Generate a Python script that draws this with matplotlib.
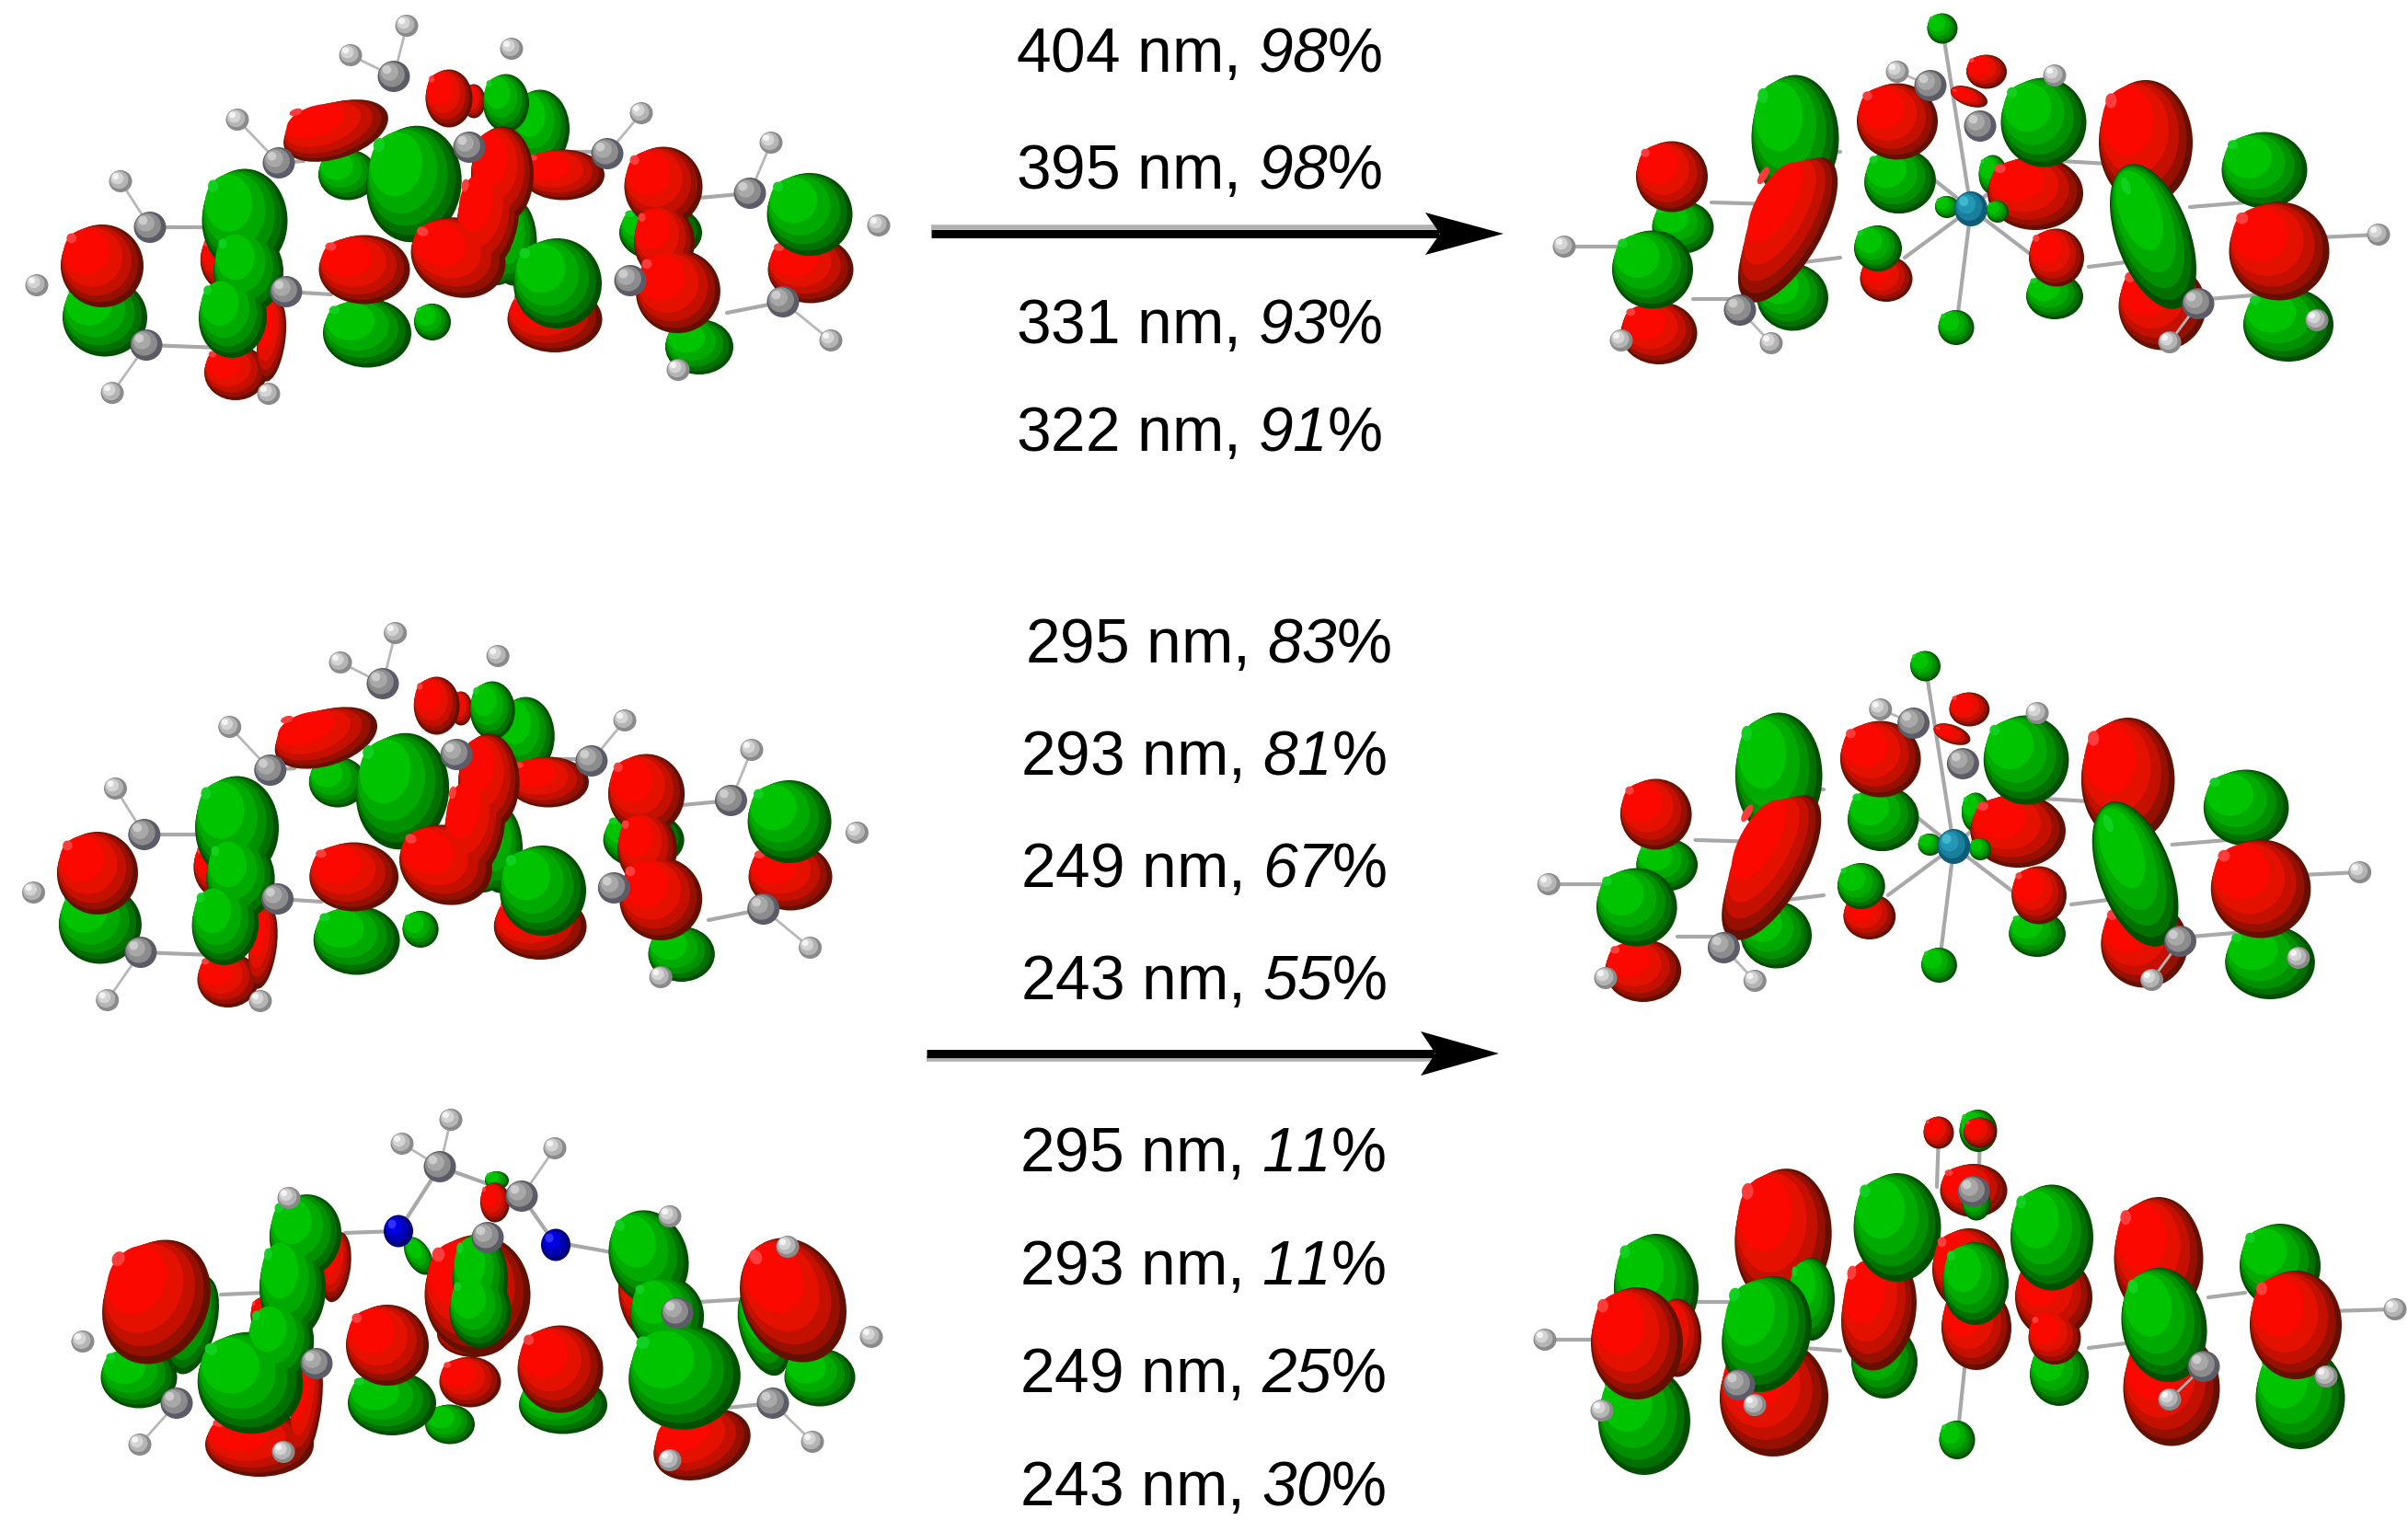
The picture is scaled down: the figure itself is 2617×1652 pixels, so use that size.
import matplotlib
matplotlib.use('Agg')
import matplotlib.pyplot as plt
from matplotlib.patches import Ellipse, Polygon
import numpy as np

plt.rcParams['font.family'] = ['Liberation Sans', 'DejaVu Sans']
plt.rcParams['mathtext.fontset'] = 'custom'
plt.rcParams['mathtext.rm'] = 'Liberation Sans'
plt.rcParams['mathtext.sf'] = 'Liberation Sans:italic'

W, H = 2617, 1652

# labels: wavelength, percent
wave_top = [404, 395, 331, 322]
pct_top = [98, 98, 93, 91]
base_top = [78, 205, 373, 490]
left_top = [1104, 1104, 1104, 1104]
wave_mid = [295, 293, 249, 243]
pct_mid = [83, 81, 67, 55]
base_mid = [720, 842, 964, 1086]
left_mid = [1114, 1109, 1109, 1109]
wave_low = [295, 293, 249, 243]
pct_low = [11, 11, 25, 30]
base_low = [1273, 1396, 1513, 1636]
left_low = [1108, 1108, 1108, 1108]

# lobes in paint order: sign, then the ellipses (x, y, w, h, clockwise tilt) that merge into one surface
homo_lobes = [
    ('g', [(114, 345, 92, 85, 0)]),
    ('r', [(111, 289, 90, 90, 5)]),
    ('r', [(256, 405, 68, 60, 0), (295, 370, 30, 90, 8), (243, 285, 50, 62, -10)]),
    ('g', [(266, 240, 93, 113, 0), (270, 295, 76, 90, 0), (253, 345, 74, 88, 5)]),
    ('g', [(378, 190, 64, 55, 0)]),
    ('r', [(365, 142, 118, 60, -18)]),
    ('g', [(587, 140, 64, 85, 0)]),
    ('r', [(515, 110, 25, 37, 0)]),
    ('r', [(488, 107, 51, 63, 0)]),
    ('g', [(550, 112, 50, 63, 0)]),
    ('g', [(558, 263, 51, 95, 0), (540, 290, 40, 40, 0)]),
    ('r', [(612, 190, 90, 55, 0)]),
    ('g', [(450, 200, 103, 127, 8)]),
    ('r', [(546, 190, 68, 105, 0), (530, 240, 66, 115, 10), (498, 280, 105, 85, 20)]),
    ('g', [(399, 362, 96, 75, 0)]),
    ('r', [(396, 293, 99, 75, 0)]),
    ('g', [(470, 350, 40, 40, 0)]),
    ('r', [(603, 347, 103, 72, 0)]),
    ('g', [(606, 308, 96, 98, 0)]),
    ('g', [(718, 253, 90, 62, 0), (760, 377, 74, 60, 0)]),
    ('r', [(721, 203, 85, 87, 0), (722, 263, 66, 80, 0), (737, 317, 92, 90, -20)]),
    ('r', [(881, 293, 93, 73, 0)]),
    ('g', [(880, 233, 93, 90, 0)]),
]
homo_c = [(163, 247), (159, 375), (303, 177), (311, 317), (428, 83), (510, 160), (660, 167), (685, 305), (815, 210), (851, 328)]
homo_h = [(40, 310), (131, 197), (122, 427), (258, 130), (292, 428), (381, 60), (442, 28), (556, 53), (697, 123), (737, 402), (838, 155), (955, 245), (903, 370)]
homo_rings = [(163, 247, 240, 247), (159, 375, 240, 378), (311, 317, 360, 320), (685, 305, 740, 320), (815, 210, 760, 215), (851, 328, 790, 340), (303, 177, 330, 175), (615, 165, 660, 165)]

lumo_lobes = [
    ('r', [(1803, 362, 83, 68, 0)]),
    ('g', [(1829, 247, 67, 57, 0)]),
    ('r', [(1817, 192, 78, 77, 0)]),
    ('g', [(1796, 293, 88, 85, 0)]),
    ('g', [(1948, 323, 78, 73, 8)]),
    ('g', [(1951, 150, 95, 137, 0)]),
    ('r', [(1943, 250, 72, 177, 30)]),
    ('g', [(2065, 197, 78, 70, -10)]),
    ('r', [(2062, 132, 88, 83, 0)]),
    ('r', [(2159, 78, 44, 37, 0)]),
    ('r', [(2140, 105, 42, 20, 20)]),
    ('g', [(2111, 31, 33, 33, 0)]),
    ('g', [(2166, 190, 31, 43, 0)]),
    ('r', [(2212, 210, 104, 80, 0)]),
    ('g', [(2221, 133, 93, 97, 0)]),
    ('g', [(2116, 225, 26, 24, 0)]),
    ('g', [(2171, 230, 24, 24, 0)]),
    ('r', [(2050, 303, 57, 50, 0)]),
    ('g', [(2041, 270, 52, 50, 0)]),
    ('g', [(2233, 322, 62, 50, 0)]),
    ('r', [(2235, 280, 60, 63, 0)]),
    ('g', [(2126, 356, 39, 38, 0)]),
    ('r', [(2350, 333, 95, 95, -15)]),
    ('r', [(2332, 155, 102, 136, 0)]),
    ('g', [(2340, 257, 80, 165, -20)]),
    ('g', [(2487, 353, 98, 80, 0)]),
    ('g', [(2461, 185, 93, 83, 0)]),
    ('r', [(2477, 273, 109, 107, 0)]),
]
lumo_c = [(2098, 93), (2152, 137), (1891, 337), (2389, 330)]
lumo_h = [(1700, 268), (2585, 255), (1762, 370), (1925, 373), (2358, 372), (2518, 348), (2062, 78), (2233, 82)]
lumo_metal = (2142, 227)
lumo_rings = [(1860, 220, 1930, 222), (2000, 165, 1960, 165), (1840, 325, 1895, 325), (1960, 285, 2000, 280),
              (2240, 175, 2290, 178), (2380, 225, 2440, 220), (2270, 290, 2310, 285), (2400, 325, 2460, 320),
              (1700, 268, 1790, 268), (2585, 255, 2520, 258), (2142, 227, 2111, 31), (2142, 227, 2126, 356),
              (2142, 227, 2070, 280), (2142, 227, 2205, 275), (2142, 227, 2070, 170), (2142, 227, 2200, 175)]

homo2_lobes = [
    ('g', [(151, 1497, 83, 67, 0), (210, 1440, 50, 110, 15)]),
    ('r', [(170, 1415, 112, 140, 26)]),
    ('r', [(282, 1570, 118, 70, 0), (333, 1530, 32, 120, 8), (365, 1377, 32, 77, 8), (285, 1430, 25, 40, 0)]),
    ('g', [(332, 1343, 78, 90, 8), (318, 1400, 72, 110, 0), (305, 1460, 72, 90, 8), (272, 1503, 115, 110, 18)]),
    ('g', [(455, 1365, 26, 45, -30)]),
    ('r', [(511, 1502, 67, 55, 0)]),
    ('g', [(489, 1548, 54, 43, 0)]),
    ('r', [(515, 1450, 80, 50, 0)]),
    ('r', [(519, 1407, 115, 130, 0)]),
    ('g', [(522, 1390, 60, 100, 0), (522, 1425, 67, 80, 0)]),
    ('g', [(540, 1283, 26, 20, 0)]),
    ('r', [(538, 1307, 32, 43, 0)]),
    ('g', [(426, 1525, 96, 70, 0)]),
    ('r', [(421, 1462, 90, 88, 0)]),
    ('g', [(612, 1527, 96, 63, 0)]),
    ('r', [(609, 1488, 93, 95, 0)]),
    ('r', [(705, 1410, 64, 100, -12), (730, 1463, 58, 60, 0), (763, 1570, 109, 73, -20)]),
    ('g', [(705, 1367, 85, 105, -18), (725, 1430, 80, 85, -10), (744, 1497, 122, 113, -12)]),
    ('g', [(830, 1447, 50, 100, -18), (891, 1497, 77, 63, 0)]),
    ('r', [(862, 1413, 110, 140, -25)]),
]
homo2_c = [(478, 1268), (567, 1300), (530, 1345), (192, 1525), (344, 1482), (736, 1427), (840, 1525)]
homo2_n = [(433, 1338), (604, 1353)]
homo2_h = [(490, 1217), (437, 1243), (603, 1248), (314, 1302), (90, 1458), (152, 1570), (308, 1578), (728, 1587), (728, 1322), (856, 1355), (947, 1453), (883, 1567)]
homo2_rings = [(433, 1338, 478, 1268), (567, 1300, 604, 1353), (478, 1268, 567, 1300), (240, 1407, 285, 1405), (375, 1340, 433, 1338), (620, 1353, 670, 1362), (760, 1415, 810, 1412), (790, 1530, 840, 1525)]

lumo2_lobes = [
    ('g', [(1787, 1544, 100, 118, 0)]),
    ('g', [(1800, 1400, 92, 118, 0)]),
    ('r', [(1823, 1454, 52, 85, 0)]),
    ('r', [(1779, 1460, 100, 122, 0)]),
    ('r', [(1938, 1345, 105, 150, 5)]),
    ('g', [(1969, 1412, 50, 90, 0)]),
    ('r', [(1928, 1519, 118, 128, 5)]),
    ('g', [(1920, 1450, 95, 128, 15)]),
    ('g', [(2048, 1480, 72, 80, 0)]),
    ('r', [(2042, 1426, 80, 128, 10)]),
    ('g', [(2062, 1334, 95, 118, 0)]),
    ('r', [(2148, 1443, 76, 92, 0), (2140, 1380, 80, 90, 0)]),
    ('g', [(2147, 1395, 72, 90, 0)]),
    ('r', [(2145, 1294, 73, 58, 0)]),
    ('g', [(2148, 1308, 31, 37, 0)]),
    ('g', [(2150, 1229, 41, 46, 0)]),
    ('r', [(2152, 1231, 36, 33, 0)]),
    ('r', [(2107, 1231, 33, 35, 0)]),
    ('g', [(2238, 1494, 64, 68, 0)]),
    ('r', [(2233, 1454, 57, 58, 0), (2232, 1410, 84, 90, 0)]),
    ('g', [(2230, 1345, 90, 115, 0)]),
    ('r', [(2346, 1368, 97, 134, 0)]),
    ('r', [(2360, 1509, 105, 125, 0)]),
    ('g', [(2352, 1440, 92, 125, -10)]),
    ('g', [(2500, 1519, 97, 112, 0)]),
    ('g', [(2478, 1376, 88, 92, 0)]),
    ('r', [(2495, 1440, 100, 118, 0)]),
    ('g', [(2127, 1565, 39, 42, 0)]),
]
lumo2_h = [(1679, 1456), (2603, 1423), (1741, 1533), (1907, 1527), (2358, 1521), (2528, 1496)]
lumo2_c = [(2145, 1295), (1890, 1505), (2395, 1485)]
lumo2_rings = [(2127, 1565, 2140, 1440), (1679, 1456, 1770, 1456), (2603, 1423, 2530, 1425), (2107, 1231, 2105, 1290), (2152, 1231, 2150, 1300),
               (1840, 1415, 1880, 1415), (1960, 1465, 2000, 1468), (2400, 1410, 2440, 1405), (2270, 1465, 2310, 1460)]

green_shades = ['#004e00', '#007000', '#009000', '#00aa00', '#00c400', '#10d020']
red_shades = ['#641000', '#961000', '#c41000', '#e41000', '#fb0800', '#ff3c3c']
shade_scale = [1.0, 0.93, 0.84, 0.72, 0.55, 0.12]


def draw_lobe(ax, lobe, sx=1.0, dx=0.0, dy=0.0):
    sign, parts = lobe
    shades = green_shades if sign == 'g' else red_shades
    # layer by layer, so the parts of a lobe read as one surface
    for s, c in zip(shade_scale, shades):
        off = 1 - s
        for x, y, w, h, tilt in parts:
            w2 = w * sx
            ax.add_patch(Ellipse((sx * x + dx - off * w2 * 0.42, y + dy - off * h * 0.38), w2 * s, h * s,
                                 angle=tilt, fc=c, ec='none', zorder=3))


def draw_atom(ax, x, y, w, h, cols):
    for s, c in zip([1.0, 0.8, 0.55, 0.28], cols):
        off = 1 - s
        ax.add_patch(Ellipse((x - off * w * 0.3, y - off * h * 0.3), w * s, h * s, fc=c, ec='none', zorder=5))


carbon_cols = ['#5c5c68', '#8c8c8c', '#a8a8a8', '#cccccc']
hydrogen_cols = ['#8a8a8a', '#b4b4b4', '#d4d4d4', '#f4f4f4']
nitrogen_cols = ['#00007c', '#0000b4', '#0000e0', '#3030ff']
metal_cols = ['#0f5c78', '#1a7f9c', '#2497b4', '#40b8d0']


def draw_panel(ax, lobes, carbons, hydrogens, rings, sx=1.0, dx=0.0, dy=0.0, others=()):
    for x0, y0, x1, y1 in rings:
        ax.plot([sx * x0 + dx, sx * x1 + dx], [y0 + dy, y1 + dy], color='#a8a8a8', lw=3, zorder=2, solid_capstyle='round')
    for lobe in lobes:
        draw_lobe(ax, lobe, sx, dx, dy)
    # each hydrogen is bonded to its nearest carbon
    c = np.array(carbons, float)
    for hx, hy in hydrogens:
        d = np.hypot(c[:, 0] - hx, c[:, 1] - hy)
        if d.min() < 90:
            cx, cy = c[d.argmin()]
            ax.plot([sx * hx + dx, sx * cx + dx], [hy + dy, cy + dy], color='#b8b8b8', lw=2, zorder=4)
    for x, y in carbons:
        draw_atom(ax, sx * x + dx, y + dy, 35, 34, carbon_cols)
    for x, y in hydrogens:
        draw_atom(ax, sx * x + dx, y + dy, 25, 24, hydrogen_cols)
    for x, y, w, h, cols in others:
        draw_atom(ax, sx * x + dx, y + dy, w, h, cols)


def draw_arrow(ax, x0, x1, neck, y, half, shadow):
    ax.plot([x0, neck + 15], [y + shadow, y + shadow], color='#b0b0b0', lw=4, zorder=6, solid_capstyle='butt')
    ax.plot([x0, neck + 15], [y, y], color='black', lw=6.5, zorder=7, solid_capstyle='butt')
    ax.add_patch(Polygon([(x1, y), (neck, y - half), (neck + 16, y), (neck, y + half)], closed=True, fc='black', ec='none', zorder=8))


def draw_labels(ax, waves, pcts, bases, lefts):
    for w, p, b, l in zip(waves, pcts, bases, lefts):
        ax.text(l, b, f'{w} nm, $\\mathsf{{{p}}}$%', fontsize=48.7, color='black', ha='left', va='baseline', zorder=9)


fig = plt.figure(figsize=(W / 100, H / 100), dpi=100)
ax = fig.add_axes([0, 0, 1, 1])
ax.set_xlim(0, W)
ax.set_ylim(H, 0)
ax.axis('off')

draw_panel(ax, homo_lobes, homo_c, homo_h, homo_rings)
draw_panel(ax, homo_lobes, homo_c, homo_h, homo_rings, sx=0.978, dx=-2.6, dy=660)
draw_panel(ax, homo2_lobes, homo2_c, homo2_h, homo2_rings, others=[(x, y, 32, 35, nitrogen_cols) for x, y in homo2_n])
metal = [(lumo_metal[0], lumo_metal[1], 36, 38, metal_cols)]
draw_panel(ax, lumo_lobes, lumo_c, lumo_h, lumo_rings, others=metal)
draw_panel(ax, lumo_lobes, lumo_c, lumo_h, lumo_rings, sx=0.996, dx=-10, dy=693, others=metal)
draw_panel(ax, lumo2_lobes, lumo2_c, lumo2_h, lumo2_rings)

draw_arrow(ax, 1012, 1634, 1549, 254, 23, -7)
draw_arrow(ax, 1007, 1629, 1544, 1145, 24, 6)

draw_labels(ax, wave_top, pct_top, base_top, left_top)
draw_labels(ax, wave_mid, pct_mid, base_mid, left_mid)
draw_labels(ax, wave_low, pct_low, base_low, left_low)

fig.savefig('out.png', dpi=100, facecolor='white')
